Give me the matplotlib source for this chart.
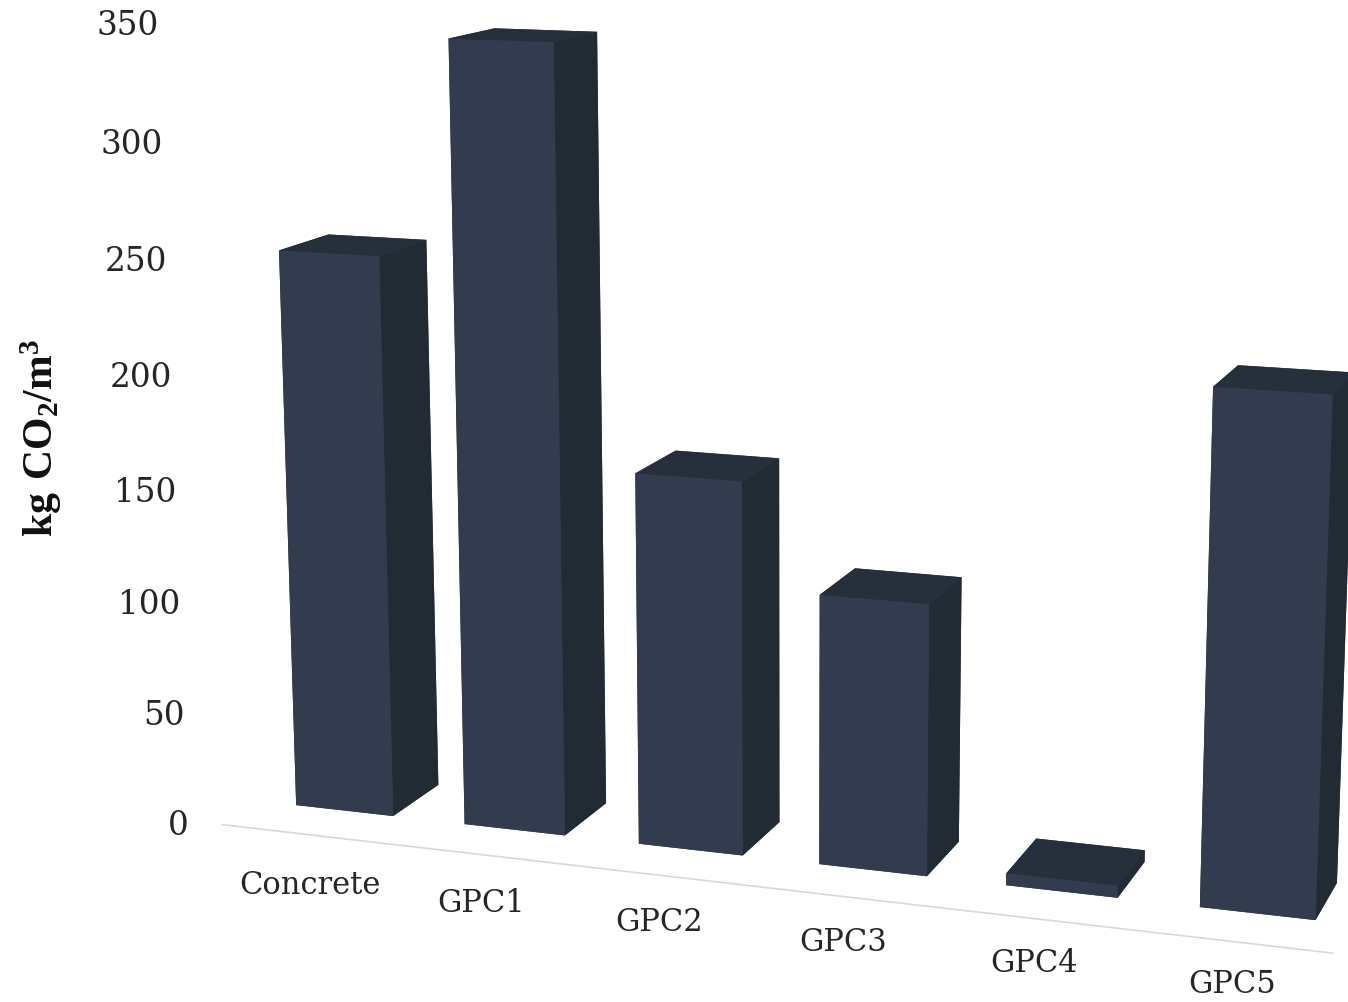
import numpy as np
import matplotlib
matplotlib.use("Agg")
import matplotlib.pyplot as plt
from mpl_toolkits.mplot3d import proj3d

categories = ["Concrete", "GPC1", "GPC2", "GPC3", "GPC4", "GPC5"]
emissions = [240, 330, 157, 113, 5, 208]
y_ticks = [0, 50, 100, 150, 200, 250, 300, 350]

FRONT, SIDE, TOP = "#323c4e", "#222a34", "#262f3c"
FONT = "DejaVu Serif"

# camera, in picture pixels
ELEV, AZIM = 12.0, -71.0
CAM_DIST = 3500.0
PX_PER_X, PX_PER_Z = 196.0, 2.49
CENTER_PX = (761, 465)
SIDE_PX = 2400.0

plt.rcParams["mathtext.fontset"] = "custom"
plt.rcParams["mathtext.bf"] = "Liberation Serif:bold"
plt.rcParams["mathtext.rm"] = "Liberation Serif"
fig = plt.figure(figsize=(13.48, 10.02), dpi=100)
W, H = 1348.0, 1002.0
ax = fig.add_axes([(CENTER_PX[0] - SIDE_PX / 2) / W,
                   (H - CENTER_PX[1] - SIDE_PX / 2) / H,
                   SIDE_PX / W, SIDE_PX / H], projection="3d")

xlim, ylim, zlim = (-0.5, 5.5), (-0.3, 0.7), (0, 350)
ax.set_xlim(xlim); ax.set_ylim(ylim); ax.set_zlim(zlim)
aspect = np.array([(xlim[1] - xlim[0]) * PX_PER_X, (ylim[1] - ylim[0]) * PX_PER_X,
                   (zlim[1] - zlim[0]) * PX_PER_Z])
N = np.linalg.norm(aspect)
K = SIDE_PX / 2 / 0.925
ax.set_box_aspect(aspect, zoom=N / (1.906 * K))
ax.set_proj_type("persp", focal_length=CAM_DIST / (10 * K))
ax.view_init(elev=ELEV, azim=AZIM)
ax.set_axis_off()
ax.patch.set_alpha(0)

BAR_W, BAR_D = 0.58, 0.58
x = np.arange(len(categories))
# face order in bar3d: bottom, top, front, back, left, right
face_colors = [FRONT, TOP, FRONT, FRONT, SIDE, SIDE] * len(categories)
ax.bar3d(x - BAR_W / 2, np.zeros(len(x)), np.zeros(len(x)), BAR_W, BAR_D, emissions,
         color=face_colors, shade=False, edgecolor="none", linewidth=0)

base_y = -0.43
ax.plot([-0.51, 5.455], [base_y, base_y], [0, 0], color="#d9d9d9", lw=1.2)


def to_fig(px, py, pz):
    # place flat text at a point of the 3d scene
    sx, sy, _ = proj3d.proj_transform(px, py, pz, ax.get_proj())
    dx, dy = ax.transData.transform((sx, sy))
    return dx / W, dy / H


for i, name in enumerate(categories):
    fx, fy = to_fig(i - 0.015 - 0.004 * i, -0.4, -23.2 + 1.0 * i)
    fig.text(fx, fy, name, ha="center", va="center", fontsize=22, family=FONT, color="#262626")
for t in y_ticks:
    fx, fy = to_fig(-1.01, 0.1, t * 0.995 - 18)
    fig.text(fx, fy, str(t), ha="right", va="center", fontsize=23.5, family=FONT, color="#262626")

fig.text(41 / W, 1 - 438 / H, r"$\mathbf{kg\ CO_2/m^3}$", rotation=90, ha="center",
         va="center", fontsize=30, color="#111111")

fig.savefig("out.png", dpi=100)
